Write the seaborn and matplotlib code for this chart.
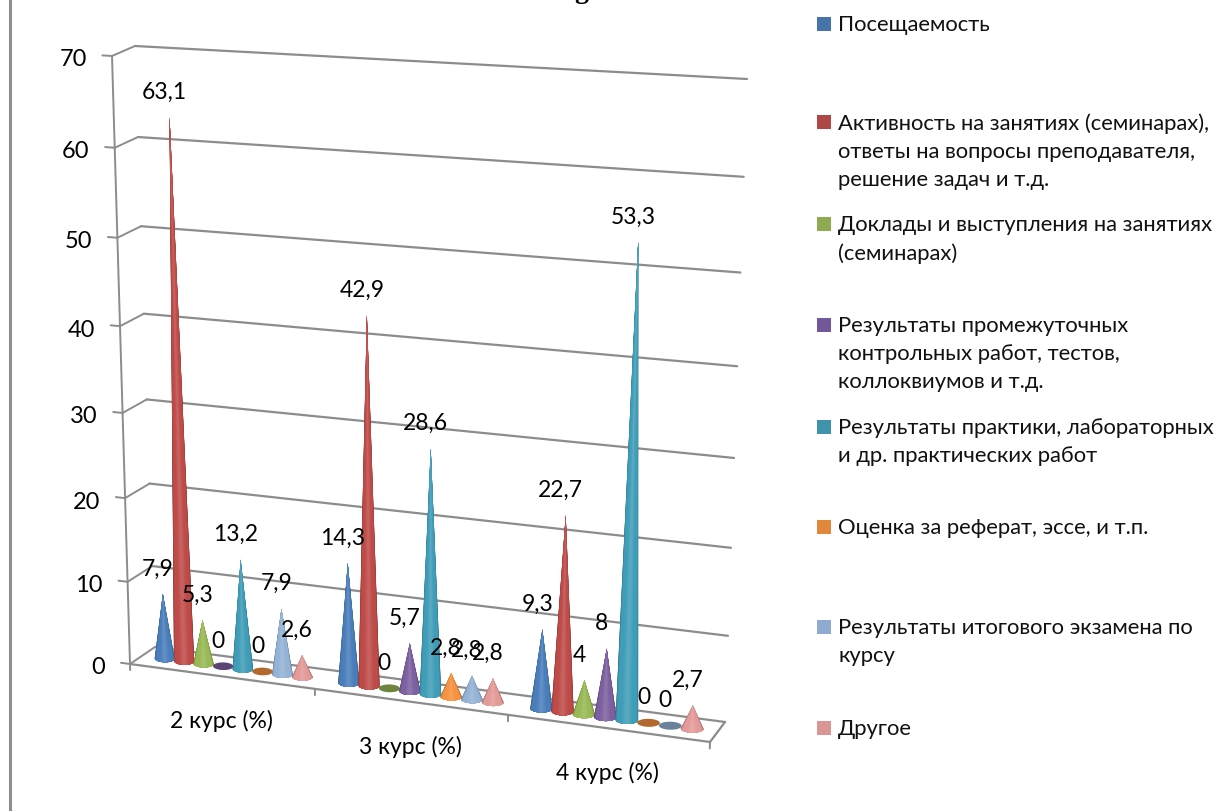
import numpy as np
import pandas as pd
import matplotlib
matplotlib.use('Agg')
import matplotlib.pyplot as plt
import matplotlib.colors as mcolors
import matplotlib.transforms as mtransforms
from matplotlib.collections import PolyCollection
from matplotlib.patches import Rectangle
import seaborn as sns

courses = ['2 курс (%)', '3 курс (%)', '4 курс (%)']
attendance = [7.9, 14.3, 9.3]
activity = [63.1, 42.9, 22.7]
reports = [5.3, 0, 4]
midterms = [0, 5.7, 8]
practice = [13.2, 28.6, 53.3]
essays = [0, 2.8, 0]
final_exam = [7.9, 2.8, 0]
other = [2.6, 2.8, 2.7]
series = [attendance, activity, reports, midterms, practice, essays, final_exam, other]

legend_labels = [
    'Посещаемость',
    'Активность на занятиях (семинарах),\nответы на вопросы преподавателя,\nрешение задач и т.д.',
    'Доклады и выступления на занятиях\n(семинарах)',
    'Результаты промежуточных\nконтрольных работ, тестов,\nколлоквиумов и т.д.',
    'Результаты практики, лабораторных\nи др. практических работ',
    'Оценка за реферат, эссе, и т.п.',
    'Результаты итогового экзамена по\nкурсу',
    'Другое',
]
colors = ['#4A7EBB', '#BE4B48', '#98B954', '#7D60A0', '#3F9DB8', '#F69240', '#94B3D6', '#E39A98']
swatch_colors = ['#4775A9', '#AE4745', '#8FAA52', '#72589A', '#3F93AB', '#E1873B', '#8FA9D0', '#D99694']
legend_y = [25, 123, 225, 326, 428, 528, 628, 729]
y_ticks = [0, 10, 20, 30, 40, 50, 60, 70]
grid_color = '#8C8C8C'


class Plane(mtransforms.Transform):
    # maps (category position, value) onto a slanted plane of the picture
    input_dims = 2
    output_dims = 2

    def __init__(self, corners):
        super().__init__()
        src = [(0, 0), (3, 0), (3, 70), (0, 70)]
        a, b = [], []
        for (u, z), (px, py) in zip(src, corners):
            a.append([u, z, 1, 0, 0, 0, -u * px, -z * px])
            a.append([0, 0, 0, u, z, 1, -u * py, -z * py])
            b += [px, py]
        self.h = np.append(np.linalg.solve(np.array(a, float), np.array(b, float)), 1).reshape(3, 3)

    def transform_non_affine(self, values):
        pts = np.column_stack([np.asarray(values), np.ones(len(values))]) @ self.h.T
        return pts[:, :2] / pts[:, 2:]


back_corners = np.array([(155, 648), (725, 723), (747, 80), (135, 47)], float)
front_corners = np.array([(130, 665), (710, 743), (732, 96), (112, 57)], float)

sns.set_theme(style='white')
plt.rcParams['font.family'] = ['Lato', 'Open Sans', 'DejaVu Sans']

fig, ax = plt.subplots(figsize=(12.27, 8.12), dpi=100)
fig.subplots_adjust(0, 0, 1, 1)

back = Plane(back_corners) + ax.transData
front = Plane(front_corners) + ax.transData
mid = Plane((back_corners + front_corners) / 2) + ax.transData

# back wall grid
grid = pd.DataFrame([(u, z) for z in y_ticks for u in (0, 3)], columns=['u', 'z'])
sns.lineplot(data=grid, x='u', y='z', units='z', estimator=None, color=grid_color,
             lw=1.6, legend=False, ax=ax, transform=back, zorder=1)

# side wall and front edge
for z in y_ticks:
    p0 = front.transform((0, z))
    p1 = back.transform((0, z))
    ax.plot(*ax.transData.inverted().transform([p0, p1]).T, color=grid_color, lw=1.4, zorder=1)
    ax.plot([0, -0.05], [z, z], color=grid_color, lw=1.4, transform=front, zorder=1)
    ax.annotate(str(z), xy=(0, z), xycoords=front, xytext=(-25, -3), textcoords='offset pixels',
                ha='right', va='center', fontsize=17, color='black')
ax.plot([0, 0], [0, 70], color=grid_color, lw=1.4, transform=front, zorder=1)
ax.plot([0, 3], [0, 0], color=grid_color, lw=1.6, transform=front, zorder=1)
p0 = ax.transData.inverted().transform([front.transform((3, 0)), back.transform((3, 0))])
ax.plot(*p0.T, color=grid_color, lw=1.6, zorder=1)
for i in range(4):
    ax.plot([i, i], [0, -0.75], color=grid_color, lw=1.4, transform=front, zorder=1)
for i, course in enumerate(courses):
    ax.annotate(course, xy=(i + 0.5, 0), xycoords=front, xytext=(0, -44), textcoords='offset pixels',
                ha='center', va='center', fontsize=16.5, color='black')

# cones, painted from the dark outline inwards to the light middle
half_width = 0.056
base_depth = 0.47
angles = np.linspace(np.pi, 2 * np.pi, 41)
steps = len(angles) // 2
for j, values in enumerate(series):
    rgb = np.array(mcolors.to_rgb(colors[j]))
    dark = rgb * 0.72
    light = rgb + (1 - rgb) * 0.14
    shades = sns.blend_palette([dark, rgb, rgb, light], steps)
    for i, v in enumerate(values):
        u = i + 0.5 + (j - 3.5) * 0.1075
        if v > 0:
            edge = np.column_stack([u + half_width * np.cos(angles),
                                    base_depth * np.sin(angles) + 0.15 * np.cos(angles)])
            shells = [np.vstack([edge[k:len(edge) - k], (u, v)]) for k in range(steps)]
            cone = PolyCollection(shells, facecolors=shades, edgecolors='none',
                                  transform=mid, zorder=3)
            cone.set_snap(False)
            ax.add_collection(cone)
        else:
            ring = np.linspace(0, 2 * np.pi, 50)
            disc = np.column_stack([u + half_width * np.cos(ring),
                                    base_depth * np.sin(ring) + 0.15 * np.cos(ring)])
            ax.add_collection(PolyCollection([disc], facecolors=[dark], edgecolors='none',
                                             transform=mid, zorder=3))
        ax.annotate(f'{v:g}'.replace('.', ','), xy=(u, v), xycoords=mid, xytext=(-5, 26),
                    textcoords='offset pixels', ha='center', va='center', fontsize=16.5,
                    color='black', zorder=5)

# legend
for y, label, swatch in zip(legend_y, legend_labels, swatch_colors):
    ax.add_patch(Rectangle((817, y - 7), 14, 14, color=swatch, lw=0))
    ax.text(838, y - 10, label, ha='left', va='top', fontsize=15.8, color='#111111', linespacing=1.5)

# page edge and the cut off title
ax.plot([10, 10], [0, 812], color='#8E8E8E', lw=2.2)
ax.text(581, -8, 'g', family='Liberation Serif', fontweight='bold', fontsize=20,
        ha='center', va='center', color='black')

ax.set_xlim(0, 1227)
ax.set_ylim(812, 0)
ax.set_xlabel('')
ax.set_ylabel('')
ax.axis('off')

fig.savefig('out.png', dpi=100)
